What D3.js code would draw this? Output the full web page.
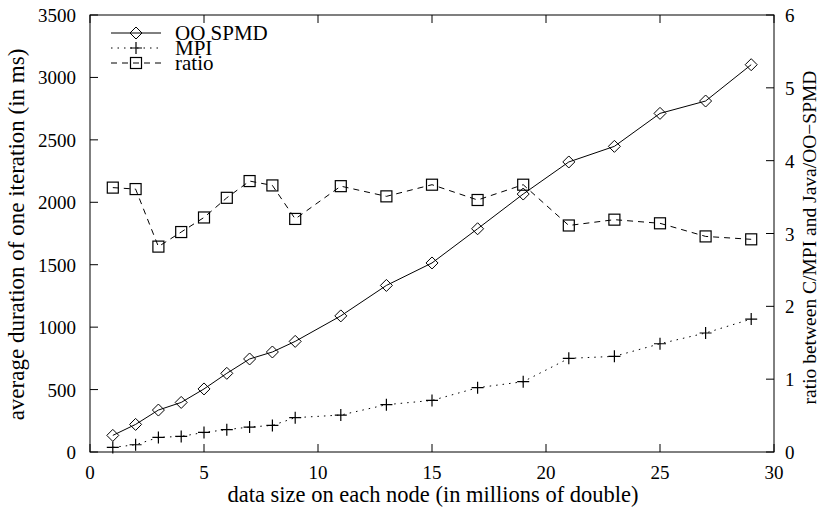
<!DOCTYPE html>
<html>
<head>
<meta charset="utf-8">
<script src="https://cdn.jsdelivr.net/npm/d3@7"></script>
<style>
  body { margin: 0; background: #fff; }
</style>
</head>
<body>
<svg id="chart" width="831" height="511"></svg>
<script>
// data size (millions of double)
const sizes = [1, 2, 3, 4, 5, 6, 7, 8, 9, 11, 13, 15, 17, 19, 21, 23, 25, 27, 29];
const ooSpmd = [133, 221, 336, 397, 505, 630, 745, 801, 886, 1090, 1334, 1514, 1788, 2066, 2323, 2448, 2712, 2811, 3102];
const mpi = [37, 58, 117, 125, 157, 179, 200, 213, 275, 296, 379, 413, 515, 563, 750, 766, 867, 953, 1065];
const ratio = [3.63, 3.61, 2.82, 3.02, 3.22, 3.49, 3.72, 3.66, 3.20, 3.65, 3.51, 3.67, 3.46, 3.67, 3.11, 3.19, 3.14, 2.96, 2.92];

const xTicks = [0, 5, 10, 15, 20, 25, 30];
const yTicks = [0, 500, 1000, 1500, 2000, 2500, 3000, 3500];
const y2Ticks = [0, 1, 2, 3, 4, 5, 6];

const svg = d3.select("#chart");
const m = {left: 90, right: 774, top: 15, bottom: 452};
const FONT = "'Liberation Serif', 'Times New Roman', serif";

const x = d3.scaleLinear().domain([0, 30]).range([m.left, m.right]);
const y = d3.scaleLinear().domain([0, 3500]).range([m.bottom, m.top]);
const y2 = d3.scaleLinear().domain([0, 6]).range([m.bottom, m.top]);

const tickLen = 8;

function txt(sel, size) {
    return sel.append("text").style("font-family", FONT).style("font-size", (size || 19) + "px").attr("fill", "#000");
}

// frame
svg.append("rect")
    .attr("x", m.left).attr("y", m.top)
    .attr("width", m.right - m.left).attr("height", m.bottom - m.top)
    .attr("fill", "none").attr("stroke", "#000").attr("stroke-width", 1);

// ticks drawn inward, gnuplot style
const g = svg.append("g").attr("stroke", "#000").attr("stroke-width", 1);
xTicks.forEach(function (t) {
    g.append("line").attr("x1", x(t)).attr("x2", x(t)).attr("y1", m.bottom).attr("y2", m.bottom - tickLen);
    g.append("line").attr("x1", x(t)).attr("x2", x(t)).attr("y1", m.top).attr("y2", m.top + tickLen);
});
yTicks.forEach(function (t) {
    g.append("line").attr("x1", m.left).attr("x2", m.left + tickLen).attr("y1", y(t)).attr("y2", y(t));
});
y2Ticks.forEach(function (t) {
    g.append("line").attr("x1", m.right).attr("x2", m.right - tickLen).attr("y1", y2(t)).attr("y2", y2(t));
});

// tick labels
xTicks.forEach(function (t) {
    txt(svg).attr("x", x(t)).attr("y", m.bottom + 27)
        .attr("text-anchor", "middle").text(t);
});
yTicks.forEach(function (t) {
    txt(svg).attr("x", m.left - 14).attr("y", y(t) + 7)
        .attr("text-anchor", "end").text(t);
});
y2Ticks.forEach(function (t) {
    txt(svg).attr("x", m.right + 11).attr("y", y2(t) + 7)
        .attr("text-anchor", "start").text(t);
});

// axis titles
txt(svg, 22.5)
    .attr("x", 433).attr("y", 502)
    .attr("text-anchor", "middle")
    .text("data size on each node (in millions of double)");
txt(svg, 23)
    .attr("transform", "translate(24," + ((m.top + m.bottom) / 2 + 1) + ") rotate(-90)")
    .attr("text-anchor", "middle")
    .text("average duration of one iteration (in ms)");
txt(svg, 19.5)
    .attr("transform", "translate(816," + ((m.top + m.bottom) / 2 + 4) + ") rotate(-90)")
    .attr("text-anchor", "middle")
    .text("ratio between C/MPI and Java/OO\u2212SPMD");

// markers
function diamond(sel, cx, cy) {
    const r = 6;
    sel.append("path")
        .attr("d", "M" + cx + "," + (cy - r) + "L" + (cx + r) + "," + cy + "L" + cx + "," + (cy + r) + "L" + (cx - r) + "," + cy + "Z")
        .attr("fill", "none").attr("stroke", "#000").attr("stroke-width", 1);
}
function plus(sel, cx, cy) {
    const r = 6;
    sel.append("path")
        .attr("d", "M" + (cx - r) + "," + cy + "H" + (cx + r) + "M" + cx + "," + (cy - r) + "V" + (cy + r))
        .attr("fill", "none").attr("stroke", "#000").attr("stroke-width", 1.2);
}
function square(sel, cx, cy) {
    const r = 5.5;
    sel.append("rect")
        .attr("x", cx - r).attr("y", cy - r).attr("width", 2 * r).attr("height", 2 * r)
        .attr("fill", "none").attr("stroke", "#000").attr("stroke-width", 1.2);
}

const series = [
    {name: "OO SPMD", vals: ooSpmd, scale: y, dash: null, marker: diamond},
    {name: "MPI", vals: mpi, scale: y, dash: "1.5,5", marker: plus},
    {name: "ratio", vals: ratio, scale: y2, dash: "6,5", marker: square}
];

series.forEach(function (s) {
    const line = d3.line().x((d, i) => x(sizes[i])).y(d => s.scale(d));
    svg.append("path")
        .datum(s.vals)
        .attr("d", line)
        .attr("fill", "none").attr("stroke", "#000").attr("stroke-width", 1)
        .attr("stroke-dasharray", s.dash);
    const mg = svg.append("g");
    s.vals.forEach(function (v, i) {
        s.marker(mg, x(sizes[i]), s.scale(v));
    });
});

// legend
const lg = svg.append("g");
series.forEach(function (s, i) {
    const ly = 33 + i * 15;
    lg.append("line")
        .attr("x1", 111).attr("x2", 161).attr("y1", ly).attr("y2", ly)
        .attr("stroke", "#000").attr("stroke-width", 1)
        .attr("stroke-dasharray", s.dash);
    s.marker(lg, 136, ly);
    txt(lg, 21)
        .attr("x", 175).attr("y", ly + 7)
        .text(s.name);
});
</script>
</body>
</html>
